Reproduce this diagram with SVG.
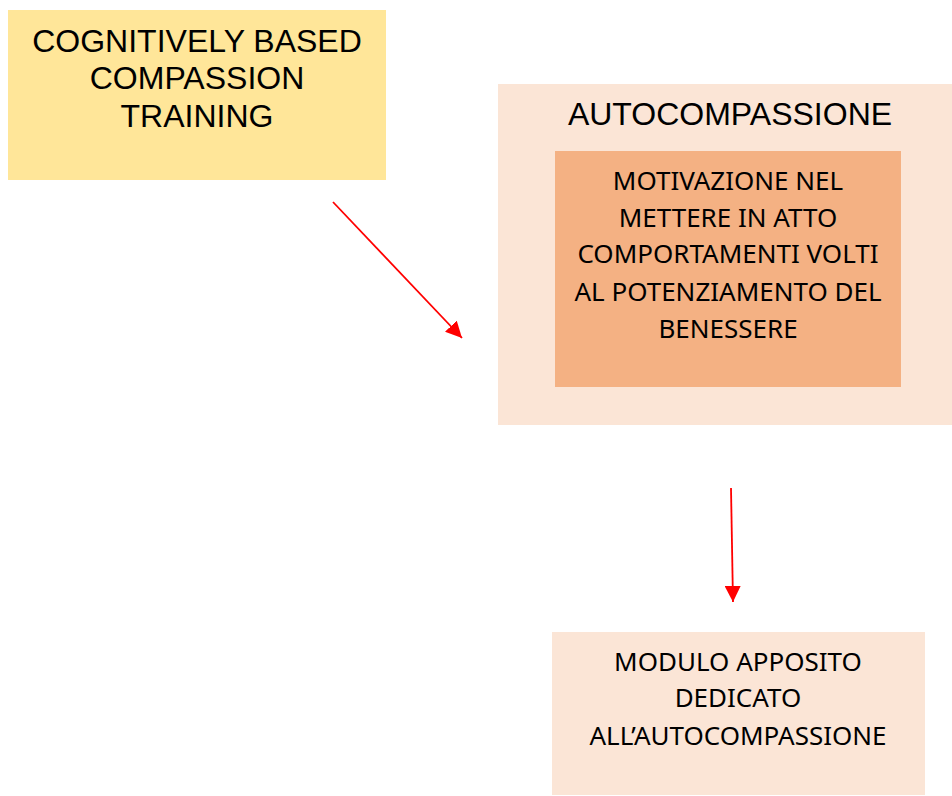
<svg xmlns="http://www.w3.org/2000/svg" width="952" height="796" viewBox="0 0 952 796">
  <style>
    .title { font-family: "Liberation Sans", Arial, sans-serif; fill: #000; text-anchor: middle; font-size: 32px; }
    .body { font-family: "Noto Sans", "Open Sans", sans-serif; fill: #000; text-anchor: middle; font-size: 26px; }
    .link { stroke: #FF0000; stroke-width: 1.8; fill: none; marker-end: url(#arrow); }
  </style>
  <defs>
    <marker id="arrow" viewBox="0 0 10 10" refX="10" refY="5" markerWidth="9" markerHeight="9" markerUnits="strokeWidth" orient="auto">
      <path d="M0,0 L10,5 L0,10 Z" fill="#FF0000"/>
    </marker>
  </defs>
  <rect width="952" height="796" fill="#FFFFFF"/>

  <g id="cbct">
    <rect x="8" y="10" width="378" height="170" fill="#FFE699"/>
    <text class="title" x="197" y="52">COGNITIVELY BASED</text>
    <text class="title" x="197" y="89">COMPASSION</text>
    <text class="title" x="197" y="127">TRAINING</text>
  </g>

  <g id="autocompassione">
    <rect x="498" y="84" width="454" height="341" fill="#FBE5D6"/>
    <text class="title" x="730" y="125">AUTOCOMPASSIONE</text>
  </g>

  <g id="motivazione">
    <rect x="555" y="151" width="346" height="236" fill="#F4B183"/>
    <text class="body" x="728" y="190">MOTIVAZIONE NEL</text>
    <text class="body" x="728" y="227">METTERE IN ATTO</text>
    <text class="body" x="728" y="263">COMPORTAMENTI VOLTI</text>
    <text class="body" x="728" y="301">AL POTENZIAMENTO DEL</text>
    <text class="body" x="728" y="338">BENESSERE</text>
  </g>

  <g id="modulo">
    <rect x="552" y="632" width="373" height="163" fill="#FBE5D6"/>
    <text class="body" x="738" y="671">MODULO APPOSITO</text>
    <text class="body" x="738" y="707">DEDICATO</text>
    <text class="body" x="738" y="745">ALL’AUTOCOMPASSIONE</text>
  </g>

  <g id="connectors">
    <line class="link" x1="333" y1="202" x2="462" y2="338"/>
    <line class="link" x1="731" y1="488" x2="733" y2="602"/>
  </g>
</svg>
